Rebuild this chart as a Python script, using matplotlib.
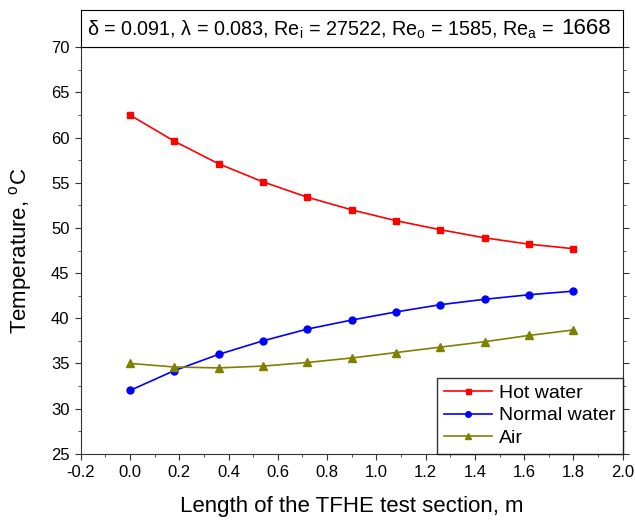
import numpy as np
import matplotlib
matplotlib.use('Agg')
import matplotlib.pyplot as plt
from matplotlib.ticker import MultipleLocator, FormatStrFormatter

plt.rcParams['font.family'] = ['Liberation Sans', 'DejaVu Sans']
plt.rcParams['mathtext.fontset'] = 'custom'
plt.rcParams['mathtext.rm'] = 'Liberation Sans'

# Dane
length = [0.0, 0.18, 0.36, 0.54, 0.72, 0.90, 1.08, 1.26, 1.44, 1.62, 1.80]
hot_water = [62.5, 59.6, 57.1, 55.1, 53.4, 52.0, 50.8, 49.8, 48.9, 48.2, 47.7]
normal_water = [32.0, 34.2, 36.0, 37.5, 38.8, 39.8, 40.7, 41.5, 42.1, 42.6, 43.0]
air = [35.0, 34.6, 34.5, 34.7, 35.1, 35.6, 36.2, 36.8, 37.4, 38.1, 38.7]

W, H = 635, 522
fig = plt.figure(figsize=(W / 100, H / 100), dpi=100)
ax_l, ax_r, ax_t, ax_b = 80.7, 622.7, 47.3, 453.7
ax = fig.add_axes([ax_l / W, 1 - ax_b / H, (ax_r - ax_l) / W, (ax_b - ax_t) / H])

ax.plot(length, hot_water, color='red', marker='s', markersize=4.5, lw=1.2, label='Hot water')
ax.plot(length, normal_water, color='blue', marker='o', markersize=5, lw=1.2, label='Normal water')
ax.plot(length, air, color='#808000', marker='^', markersize=6, lw=1.2, label='Air')

ax.set_xlim(-0.2, 2.0)
ax.set_ylim(25, 70)
ax.xaxis.set_major_locator(MultipleLocator(0.2))
ax.xaxis.set_minor_locator(MultipleLocator(0.1))
ax.xaxis.set_major_formatter(FormatStrFormatter('%.1f'))
ax.yaxis.set_major_locator(MultipleLocator(5))
ax.yaxis.set_minor_locator(MultipleLocator(2.5))
ax.tick_params(which='both', direction='out', right=True, labelsize=12,
               color='#333333')
ax.tick_params(which='major', length=4.5)
ax.tick_params(which='minor', length=2.5)
for s in ax.spines.values():
    s.set_color('#333333')

ax.set_xlabel('Length of the TFHE test section, m', fontsize=16, labelpad=12)
ax.set_ylabel(r'Temperature, $^\mathregular{o}$C', fontsize=16, labelpad=12)

leg = ax.legend(loc='lower right', fontsize=14, frameon=True, fancybox=False,
                edgecolor='black', borderaxespad=0, handlelength=2.5,
                handletextpad=0.35, markerscale=0.8, borderpad=0.35,
                labelspacing=0.25)
leg.get_frame().set_linewidth(1.0)

# Ramka z parametrami
tax = fig.add_axes([ax_l / W, 1 - ax_t / H, (ax_r - ax_l) / W, (ax_t - 9.5) / H])
tax.set_xticks([])
tax.set_yticks([])
t1 = tax.text((87 - ax_l) / (ax_r - ax_l), 0.45,
              r'δ = 0.091, λ = 0.083, Re$_\mathregular{i}$ = 27522, '
              r'Re$_\mathregular{o}$ = 1585, Re$_\mathregular{a}$ =', fontsize=14.2,
              va='center', ha='left', transform=tax.transAxes)
fig.canvas.draw()
bb = t1.get_window_extent()
x_end = tax.transAxes.inverted().transform((bb.x1 + 7, 0))[0]
tax.text(x_end, 0.5, '1668', fontsize=16, va='center', ha='left', transform=tax.transAxes)

fig.savefig('out.png', dpi=100)
